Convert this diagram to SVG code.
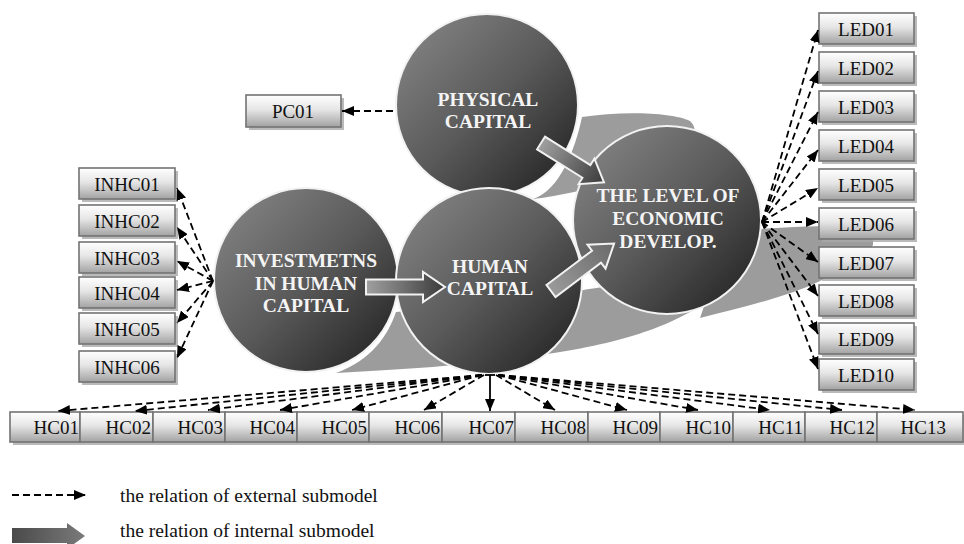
<svg xmlns="http://www.w3.org/2000/svg" width="964" height="544" viewBox="0 0 964 544">
<defs>
<linearGradient id="gCircle" x1="0" y1="0" x2="1" y2="1">
<stop offset="0" stop-color="#8a8a8a"/>
<stop offset="0.5" stop-color="#5a5a5a"/>
<stop offset="1" stop-color="#1c1c1c"/>
</linearGradient>
<linearGradient id="gBox" x1="0" y1="0" x2="0" y2="1">
<stop offset="0" stop-color="#ffffff"/>
<stop offset="0.45" stop-color="#e6e6e6"/>
<stop offset="1" stop-color="#a2a2a2"/>
</linearGradient>
<linearGradient id="gArrow" x1="0" y1="0" x2="1" y2="0">
<stop offset="0" stop-color="#a0a0a0"/>
<stop offset="1" stop-color="#3a3a3a"/>
</linearGradient>
<linearGradient id="gArrowLight" x1="0" y1="0" x2="1" y2="0">
<stop offset="0" stop-color="#9a9a9a"/>
<stop offset="1" stop-color="#6a6a6a"/>
</linearGradient>
<linearGradient id="gLegend" x1="0" y1="0" x2="1" y2="0">
<stop offset="0" stop-color="#4a4a4a"/>
<stop offset="1" stop-color="#7a7a7a"/>
</linearGradient>
<marker id="ah" viewBox="0 0 12 10" refX="12" refY="5" markerWidth="12" markerHeight="10" markerUnits="userSpaceOnUse" orient="auto">
<path d="M0,0 L12,5 L0,10 Z" fill="#000"/>
</marker>
<path id="blk" d="M0,-7.5 L57,-7.5 L57,-15 L79,0 L57,15 L57,7.5 L0,7.5 Z"/>
</defs>
<style>
.swoosh{fill:#9c9c9c;stroke:none}
.circle{fill:url(#gCircle);stroke:#f2f2f2;stroke-width:2}
.ctext{font-family:"Liberation Serif","Times New Roman",serif;font-weight:bold;font-size:19.5px;fill:#f4f4f4;text-anchor:middle}
.box{fill:url(#gBox);stroke:#737373;stroke-width:1.6}
.shadow{fill:#a9a9a9;opacity:0.8}
.btext{font-family:"Liberation Serif","Times New Roman",serif;font-size:19px;fill:#111;text-anchor:middle}
.hctext{font-family:"Liberation Serif","Times New Roman",serif;font-size:19px;fill:#111;text-anchor:end}
.dash{fill:none;stroke:#000;stroke-width:1.8;stroke-dasharray:7 4;marker-end:url(#ah)}
.solid{fill:none;stroke:#000;stroke-width:1.8;marker-end:url(#ah)}
.blkarrow{fill:url(#gArrow);stroke:#f2f2f2;stroke-width:2}
.legtext{font-family:"Liberation Serif","Times New Roman",serif;font-size:19.5px;fill:#111}
</style>

<!-- decorative swooshes -->
<g id="swooshes">
<path class="swoosh" d="M533,199 C560,190 575,150 582,117 C620,111 672,112 690,121 C700,130 692,142 680,142 L640,168 L627,176 L610,181 C590,189 560,196 533,199 Z"/>
<path class="swoosh" d="M700,318 C740,308 790,296 820,281 C845,268 865,256 873,245 L873,227 C840,225 800,226 760,229 L720,260 Z"/>
<path class="swoosh" d="M336,373 C372,360 388,335 396,312 L540,298 C580,290 640,279 697,281 C706,292 702,306 690,312 C640,340 560,362 336,373 Z"/>
<path class="swoosh" d="M430,300 L447,284 L455,298 Z"/>
</g>

<!-- circles -->
<g id="physical-capital">
<circle class="circle" cx="487" cy="105" r="91"/>
<text class="ctext" x="488" y="106">PHYSICAL</text>
<text class="ctext" x="488" y="128">CAPITAL</text>
</g>
<g id="investments">
<circle class="circle" cx="306" cy="280" r="92"/>
<text class="ctext" x="306" y="267">INVESTMETNS</text>
<text class="ctext" x="306" y="290">IN HUMAN</text>
<text class="ctext" x="306" y="312">CAPITAL</text>
</g>
<g id="human-capital">
<circle class="circle" cx="489" cy="281" r="93"/>
<text class="ctext" x="490" y="273">HUMAN</text>
<text class="ctext" x="490" y="295">CAPITAL</text>
</g>
<g id="level-econ">
<circle class="circle" cx="667" cy="220" r="94"/>
<text class="ctext" x="668" y="202">THE LEVEL OF</text>
<text class="ctext" x="668" y="225">ECONOMIC</text>
<text class="ctext" x="668" y="248">DEVELOP.</text>
</g>

<!-- internal block arrows -->
<g id="internal-arrows">
<use href="#blk" class="blkarrow" transform="translate(366,287)"/>
<use href="#blk" class="blkarrow" transform="translate(541,143) rotate(32) scale(0.94,1)"/>
<use href="#blk" fill="url(#gArrowLight)" stroke="#f2f2f2" stroke-width="2" transform="translate(551,291) rotate(-37)"/>
</g>

<!-- boxes -->
<g id="PC01"><rect class="shadow" x="249" y="98" width="95" height="32"/><rect class="box" x="246" y="95" width="95" height="32"/><text class="btext" x="293" y="118">PC01</text></g>

<g id="INHC01"><rect class="shadow" x="82" y="171" width="96" height="31"/><rect class="box" x="79" y="168" width="96" height="31"/><text class="btext" x="127" y="191">INHC01</text></g>
<g id="INHC02"><rect class="shadow" x="82" y="208" width="96" height="31"/><rect class="box" x="79" y="205" width="96" height="31"/><text class="btext" x="127" y="228">INHC02</text></g>
<g id="INHC03"><rect class="shadow" x="82" y="245" width="96" height="31"/><rect class="box" x="79" y="242" width="96" height="31"/><text class="btext" x="127" y="265">INHC03</text></g>
<g id="INHC04"><rect class="shadow" x="82" y="280" width="96" height="31"/><rect class="box" x="79" y="277" width="96" height="31"/><text class="btext" x="127" y="300">INHC04</text></g>
<g id="INHC05"><rect class="shadow" x="82" y="316" width="96" height="31"/><rect class="box" x="79" y="313" width="96" height="31"/><text class="btext" x="127" y="336">INHC05</text></g>
<g id="INHC06"><rect class="shadow" x="82" y="354" width="96" height="31"/><rect class="box" x="79" y="351" width="96" height="31"/><text class="btext" x="127" y="374">INHC06</text></g>

<g id="LED01"><rect class="shadow" x="822" y="16" width="95" height="31"/><rect class="box" x="819" y="13" width="95" height="31"/><text class="btext" x="866" y="36">LED01</text></g>
<g id="LED02"><rect class="shadow" x="822" y="55" width="95" height="31"/><rect class="box" x="819" y="52" width="95" height="31"/><text class="btext" x="866" y="75">LED02</text></g>
<g id="LED03"><rect class="shadow" x="822" y="94" width="95" height="31"/><rect class="box" x="819" y="91" width="95" height="31"/><text class="btext" x="866" y="114">LED03</text></g>
<g id="LED04"><rect class="shadow" x="822" y="133" width="95" height="31"/><rect class="box" x="819" y="130" width="95" height="31"/><text class="btext" x="866" y="153">LED04</text></g>
<g id="LED05"><rect class="shadow" x="822" y="172" width="95" height="31"/><rect class="box" x="819" y="169" width="95" height="31"/><text class="btext" x="866" y="192">LED05</text></g>
<g id="LED06"><rect class="shadow" x="822" y="211" width="95" height="31"/><rect class="box" x="819" y="208" width="95" height="31"/><text class="btext" x="866" y="231">LED06</text></g>
<g id="LED07"><rect class="shadow" x="822" y="250" width="95" height="31"/><rect class="box" x="819" y="247" width="95" height="31"/><text class="btext" x="866" y="270">LED07</text></g>
<g id="LED08"><rect class="shadow" x="822" y="288" width="95" height="31"/><rect class="box" x="819" y="285" width="95" height="31"/><text class="btext" x="866" y="308">LED08</text></g>
<g id="LED09"><rect class="shadow" x="822" y="326" width="95" height="31"/><rect class="box" x="819" y="323" width="95" height="31"/><text class="btext" x="866" y="346">LED09</text></g>
<g id="LED10"><rect class="shadow" x="822" y="362" width="95" height="31"/><rect class="box" x="819" y="359" width="95" height="31"/><text class="btext" x="866" y="382">LED10</text></g>

<rect class="shadow" x="13" y="415" width="953" height="30"/>
<g id="HC01"><rect class="box" x="10" y="412" width="70" height="30"/><text class="hctext" x="79" y="434">HC01</text></g>
<g id="HC02"><rect class="box" x="80" y="412" width="73" height="30"/><text class="hctext" x="151" y="434">HC02</text></g>
<g id="HC03"><rect class="box" x="153" y="412" width="72" height="30"/><text class="hctext" x="223" y="434">HC03</text></g>
<g id="HC04"><rect class="box" x="225" y="412" width="72" height="30"/><text class="hctext" x="295" y="434">HC04</text></g>
<g id="HC05"><rect class="box" x="297" y="412" width="72" height="30"/><text class="hctext" x="367" y="434">HC05</text></g>
<g id="HC06"><rect class="box" x="369" y="412" width="73" height="30"/><text class="hctext" x="440" y="434">HC06</text></g>
<g id="HC07"><rect class="box" x="442" y="412" width="73" height="30"/><text class="hctext" x="514" y="434">HC07</text></g>
<g id="HC08"><rect class="box" x="515" y="412" width="73" height="30"/><text class="hctext" x="586" y="434">HC08</text></g>
<g id="HC09"><rect class="box" x="588" y="412" width="72" height="30"/><text class="hctext" x="658" y="434">HC09</text></g>
<g id="HC10"><rect class="box" x="660" y="412" width="73" height="30"/><text class="hctext" x="731" y="434">HC10</text></g>
<g id="HC11"><rect class="box" x="733" y="412" width="72" height="30"/><text class="hctext" x="803" y="434">HC11</text></g>
<g id="HC12"><rect class="box" x="805" y="412" width="72" height="30"/><text class="hctext" x="875" y="434">HC12</text></g>
<g id="HC13"><rect class="box" x="877" y="412" width="86" height="30"/><text class="hctext" x="946" y="434">HC13</text></g>

<!-- connectors -->
<g id="connectors">
<path class="dash" d="M393,111 L342,111"/>

<path class="dash" d="M213,281 L177,188"/>
<path class="dash" d="M213,281 L177,227"/>
<path class="dash" d="M213,281 L177,261"/>
<path class="dash" d="M213,281 L177,290"/>
<path class="dash" d="M213,281 L177,323"/>
<path class="dash" d="M213,281 L177,358"/>

<path class="dash" d="M762,222 L818,30"/>
<path class="dash" d="M762,222 L818,71"/>
<path class="dash" d="M762,222 L818,112"/>
<path class="dash" d="M762,222 L818,150"/>
<path class="dash" d="M762,222 L818,188"/>
<path class="dash" d="M762,222 L818,222"/>
<path class="dash" d="M762,222 L818,262"/>
<path class="dash" d="M762,222 L818,296"/>
<path class="dash" d="M762,222 L818,334"/>
<path class="dash" d="M762,222 L818,369"/>

<path class="dash" d="M482,375 L58,411"/>
<path class="dash" d="M482,375 L135,411"/>
<path class="dash" d="M482,375 L208,410"/>
<path class="dash" d="M482,375 L280,410"/>
<path class="dash" d="M482,375 L352,410"/>
<path class="dash" d="M484,375 L424,410"/>
<path class="solid" d="M490,375 L490,411"/>
<path d="M485,375 L495,375" stroke="#000" stroke-width="1.8"/>
<path class="dash" d="M496,375 L555,410"/>
<path class="dash" d="M498,375 L627,410"/>
<path class="dash" d="M498,375 L698,410"/>
<path class="dash" d="M498,375 L770,410"/>
<path class="dash" d="M498,375 L842,410"/>
<path class="dash" d="M498,375 L915,410"/>
</g>

<!-- legend -->
<g id="legend">
<path class="dash" d="M12,495 L86,495"/>
<text class="legtext" x="120" y="502">the relation of external submodel</text>
<path d="M12,528 L67,528 L67,523 L85,536 L67,549 L67,543 L12,543 Z" fill="url(#gLegend)"/>
<text class="legtext" x="120" y="537">the relation of internal submodel</text>
</g>
</svg>
